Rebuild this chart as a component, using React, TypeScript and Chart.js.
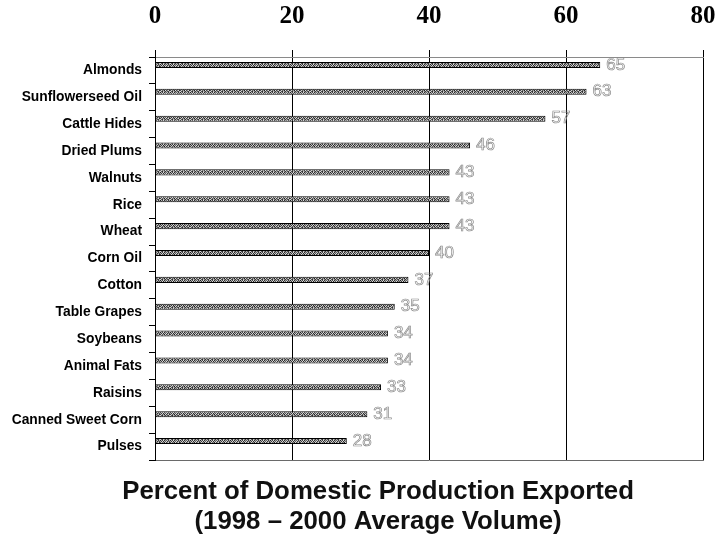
import { useEffect, useRef } from "react";
import { Chart, registerables } from "chart.js";

Chart.register(...registerables);

const commodities = [
  "Almonds",
  "Sunflowerseed Oil",
  "Cattle Hides",
  "Dried Plums",
  "Walnuts",
  "Rice",
  "Wheat",
  "Corn Oil",
  "Cotton",
  "Table Grapes",
  "Soybeans",
  "Animal Fats",
  "Raisins",
  "Canned Sweet Corn",
  "Pulses",
];
const percentExported = [65, 63, 57, 46, 43, 43, 43, 40, 37, 35, 34, 34, 33, 31, 28];
const axisMin = 0;
const axisMax = 80;
const axisStep = 20;
const titleLines = ["Percent of Domestic Production Exported", "(1998 – 2000 Average Volume)"];

// Speckled grey texture used to fill the bars
const speckle = [
  [30, 190, 70, 215, 45, 160, 100, 200, 55, 170],
  [175, 55, 220, 40, 185, 90, 225, 50, 150, 80],
  [70, 205, 100, 150, 30, 220, 65, 140, 210, 40],
  [215, 85, 45, 195, 130, 55, 175, 85, 60, 190],
];

function makeBarPattern(): CanvasPattern | string {
  const c = document.createElement("canvas");
  c.width = speckle[0].length;
  c.height = speckle.length;
  const g = c.getContext("2d");
  if (!g) return "#7a7a7a";
  const img = g.createImageData(c.width, c.height);
  speckle.forEach((row, y) =>
    row.forEach((v, x) => {
      const k = (y * c.width + x) * 4;
      img.data[k] = v;
      img.data[k + 1] = v;
      img.data[k + 2] = v;
      img.data[k + 3] = 255;
    })
  );
  g.putImageData(img, 0, 0);
  return g.createPattern(c, "repeat") || "#7a7a7a";
}

// Outlined value figures just past the end of each bar
const valueLabels = {
  id: "valueLabels",
  afterDatasetsDraw(chart: any) {
    const ctx = chart.ctx;
    const meta = chart.getDatasetMeta(0);
    ctx.save();
    ctx.font = '17px "Liberation Sans", Arial, sans-serif';
    ctx.strokeStyle = "#8a8a8a";
    ctx.lineWidth = 0.7;
    ctx.textAlign = "left";
    ctx.textBaseline = "middle";
    meta.data.forEach((bar: any, i: number) => {
      ctx.strokeText(String(percentExported[i]), bar.x + 6, bar.y);
    });
    ctx.restore();
  },
};

// Two-line caption under the plot
const captionBelow = {
  id: "captionBelow",
  afterDraw(chart: any) {
    const ctx = chart.ctx;
    const area = chart.chartArea;
    const cx = area.left + (area.right - area.left) * 0.407;
    ctx.save();
    ctx.font = 'bold 25.8px "Liberation Sans", Arial, sans-serif';
    ctx.fillStyle = "#111";
    ctx.textAlign = "center";
    ctx.textBaseline = "middle";
    ctx.fillText(titleLines[0], cx, area.bottom + 32);
    ctx.fillText(titleLines[1], cx, area.bottom + 62);
    ctx.restore();
  },
};

export default function App() {
  const canvasRef = useRef<HTMLCanvasElement | null>(null);

  useEffect(() => {
    const canvas = canvasRef.current;
    if (!canvas) return;
    const pattern = makeBarPattern();
    const chart = new Chart(canvas, {
      type: "bar",
      data: {
        labels: commodities,
        datasets: [
          {
            label: "Percent exported",
            data: percentExported,
            backgroundColor: pattern as any,
            borderColor: "#000",
            borderWidth: 1,
            borderSkipped: false,
            categoryPercentage: 0.82,
            barPercentage: 0.55,
          },
          {
            label: "",
            data: commodities.map(() => null),
            backgroundColor: "transparent",
            categoryPercentage: 0.82,
            barPercentage: 0.55,
          },
        ],
      },
      options: {
        indexAxis: "y",
        animation: false,
        responsive: false,
        maintainAspectRatio: false,
        layout: { padding: { left: 0, right: 12, top: 0, bottom: 0 } },
        plugins: {
          legend: { display: false },
          tooltip: { enabled: false },
          title: { display: false },
        },
        scales: {
          x: {
            type: "linear",
            position: "top",
            min: axisMin,
            max: axisMax,
            ticks: {
              stepSize: axisStep,
              color: "#000",
              padding: 18,
              font: { family: '"Liberation Serif", "Times New Roman", serif', size: 25, weight: "bold" },
            },
            grid: { color: "#000", lineWidth: 1, tickLength: 7 },
            border: { display: true, color: "#8a8a8a", width: 1 },
            afterFit(scale: any) {
              scale.height = 57;
              scale.paddingLeft = 0;
              scale.paddingRight = 0;
            },
          },
          x2: {
            type: "linear",
            position: "bottom",
            min: axisMin,
            max: axisMax,
            ticks: { display: false },
            grid: { drawOnChartArea: false, drawTicks: false },
            border: { display: true, color: "#6a6a6a", width: 1 },
            afterFit(scale: any) {
              scale.height = 75;
              scale.paddingLeft = 0;
              scale.paddingRight = 0;
            },
          },
          y: {
            type: "category",
            ticks: {
              color: "#000",
              padding: 7,
              autoSkip: false,
              font: { family: '"Liberation Sans", Arial, sans-serif', size: 13.8, weight: "bold" },
            },
            grid: { drawOnChartArea: false, color: "#000", tickLength: 6 },
            border: { display: true, color: "#000", width: 1 },
            afterFit(scale: any) {
              scale.width = 155;
            },
          },
        },
      },
      plugins: [valueLabels, captionBelow],
    });
    return () => chart.destroy();
  }, []);

  return (
    <div style={{ position: "fixed", left: 0, top: 0, width: 715, height: 535, background: "#fff" }}>
      <canvas ref={canvasRef} width={715} height={535} style={{ display: "block" }} />
    </div>
  );
}
